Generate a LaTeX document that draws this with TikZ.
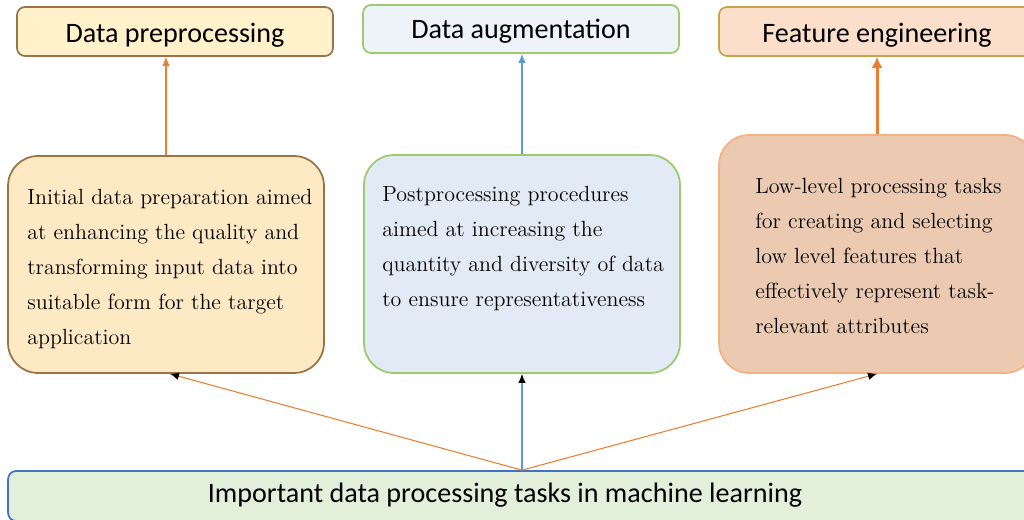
\documentclass[tikz,border=0pt]{standalone}
\usepackage{fontspec}
\newfontfamily\calibrifont{Carlito}
\usetikzlibrary{arrows.meta}

\definecolor{prepfill}{HTML}{FFF1C9}
\definecolor{prepdraw}{HTML}{9A7446}
\definecolor{augfill}{HTML}{EEF3FA}
\definecolor{augdraw}{HTML}{9BCB6B}
\definecolor{featfill}{HTML}{FBDFCB}
\definecolor{featdraw}{HTML}{C9A24A}
\definecolor{preptaskfill}{HTML}{FDE9C3}
\definecolor{augtaskfill}{HTML}{E2EAF6}
\definecolor{feattaskfill}{HTML}{EBCAB1}
\definecolor{feattaskdraw}{HTML}{F4B183}
\definecolor{mainfill}{HTML}{E2EFDA}
\definecolor{maindraw}{HTML}{4472C4}
\definecolor{arroworange}{HTML}{ED7D31}
\definecolor{arrowblue}{HTML}{5B9BD5}

\begin{document}
\begin{tikzpicture}[x=0.02cm,y=-0.02cm,
  headbox/.style={shape=rectangle, rounded corners=0.16cm, line width=1pt, minimum width=6.32cm, minimum height=0.98cm, inner sep=0, text height=0.46cm, text depth=0cm, font=\calibrifont\fontsize{16}{19}\selectfont},
  taskbox/.style={shape=rectangle, rounded corners=0.6cm, line width=1pt, minimum width=6.32cm, inner sep=0},
  tasktext/.style={anchor=north west, inner sep=0, align=left, font=\rmfamily\fontsize{12.5}{19.84}\selectfont},
  uparrow/.style={line width=0.6pt, -{Latex[length=1.8mm,width=1.5mm]}},
  fanarrow/.style={line width=0.6pt, arroworange, -{Latex[length=1.8mm,width=1.5mm,black]}}
  ]
	\useasboundingbox (0,0) rectangle (1024,520);
	\clip (0,0) rectangle (1024,520);

	%top boxes
	\node[headbox, fill=prepfill, draw=prepdraw] (prep) at (175,31.5) {Data preprocessing}; %preprocessing
	\node[headbox, fill=augfill, draw=augdraw, minimum height=0.96cm, text height=0.4cm] (aug) at (521,29) {Data augmentation}; %augmentation
	\node[headbox, fill=featfill, draw=featdraw] (feat) at (877,31.5) {Feature engineering}; %feature engineering

	%task boxes---------------------------------------------
	\node[taskbox, fill=preptaskfill, draw=prepdraw, minimum height=4.34cm] (preptask) at (166,264.5) {}; %preprocessing task
	\node[tasktext] (preptext) at (27,189) {Initial data preparation aimed\\at enhancing the quality and\\transforming input data into\\suitable form for the target\\application}; %preprocessing text
	\node[taskbox, fill=augtaskfill, draw=augdraw, minimum height=4.36cm] (augtask) at (522,264) {}; %augmentation task
	\node[tasktext] (augtext) at (382,186) {Postprocessing procedures\\aimed at increasing the\\quantity and diversity of data\\to ensure representativeness}; %augmentation text
	\node[taskbox, fill=feattaskfill, draw=feattaskdraw, minimum height=4.76cm] (feattask) at (877,254) {}; %feature task
	\node[tasktext] (feattext) at (755,178) {Low-level processing tasks\\for creating and selecting\\low level features that\\effectively represent task-\\relevant attributes}; %feature text

	%main box-----------------------------------------------
	\node[shape=rectangle, rounded corners=0.16cm, line width=1pt, fill=mainfill, draw=maindraw, minimum width=20.64cm, minimum height=1.0cm] (main) at (524,496) {}; %main box
	\node[anchor=base, inner sep=0, font=\calibrifont\fontsize{16}{19}\selectfont] (maintext) at (505,502) {Important data processing tasks in machine learning}; %main label

	%arrows-------------------------------------------------
	\draw[uparrow, arroworange] (preptask.north) -- (preptask.north |- prep.south); %to preprocessing
	\draw[uparrow, arrowblue] (augtask.north) -- (augtask.north |- aug.south); %to augmentation
	\draw[arroworange, line width=1.7pt, -{Latex[length=2.2mm,width=2.2mm]}] (feattask.north) -- (feattask.north |- feat.south); %to feature engineering
	\coordinate (fan) at (main.north -| augtask.south); %fan point
	\draw[fanarrow] (fan) -- ([xshift=0.08cm]preptask.south); %fan left
	\draw[fanarrow, arrowblue] (fan) -- (augtask.south); %fan middle
	\draw[fanarrow] (fan) -- (feattask.south); %fan right
\end{tikzpicture}
\end{document}
